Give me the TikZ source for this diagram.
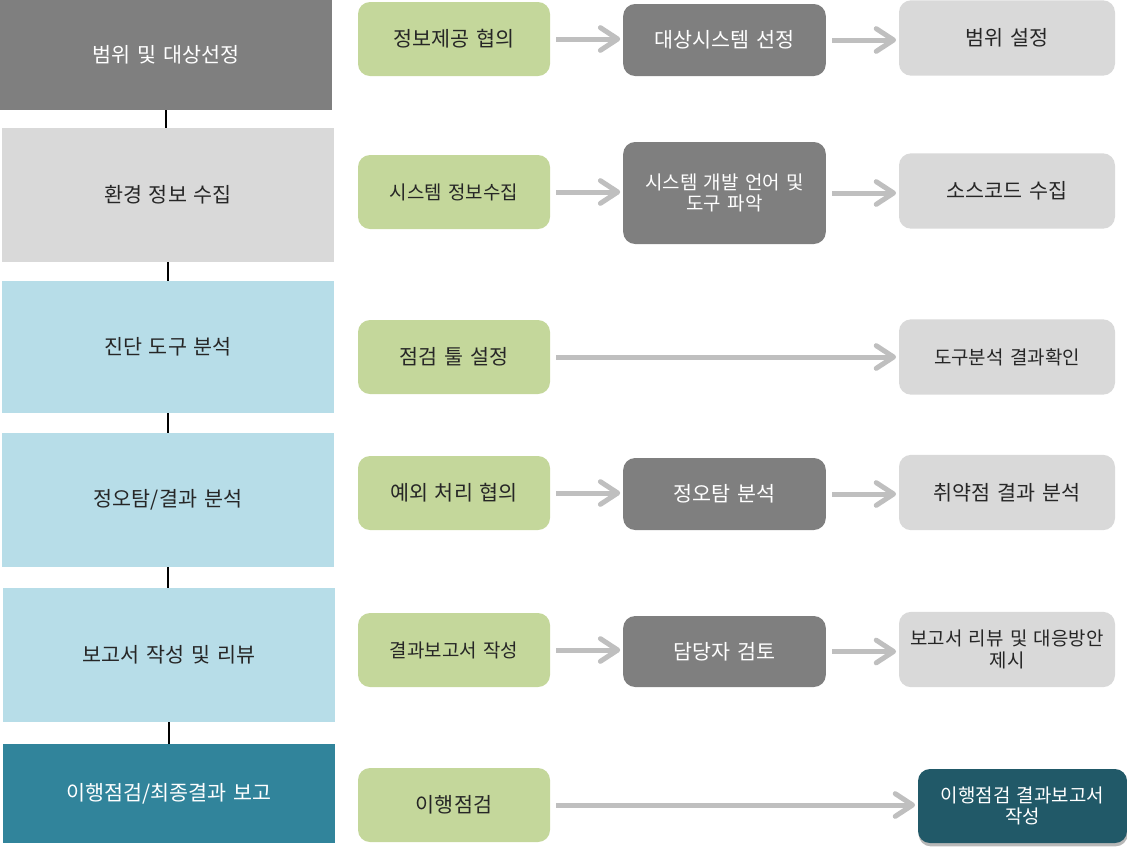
\documentclass[tikz,border=0pt]{standalone}
\usepackage{fontspec}
\newfontfamily\krfont[WordSpace=1.5]{Noto Sans CJK KR}
\usetikzlibrary{arrows.meta,shadows}

\definecolor{stagedark}{HTML}{7F7F7F}
\definecolor{stagelight}{HTML}{D9D9D9}
\definecolor{stageblue}{HTML}{B7DDE8}
\definecolor{stageteal}{HTML}{31849B}
\definecolor{taskgreen}{HTML}{C4D79B}
\definecolor{finalteal}{HTML}{215968}
\definecolor{flowgray}{HTML}{BFBFBF}
\definecolor{textdark}{HTML}{262626}

\tikzset{
  stage/.style={rectangle, minimum width=249pt, minimum height=100.5pt, inner sep=2pt,
    text=textdark, font=\krfont\fontsize{15.5pt}{18pt}\selectfont},
  task/.style={rectangle, rounded corners=9pt, fill=taskgreen, minimum width=144pt,
    minimum height=55.5pt, text=textdark, align=center,
    font=\krfont\fontsize{15.5pt}{18pt}\selectfont},
  check/.style={rectangle, rounded corners=9pt, fill=stagedark, minimum width=152pt,
    minimum height=54pt, text=white, align=center,
    font=\krfont\fontsize{15.5pt}{18pt}\selectfont},
  result/.style={rectangle, rounded corners=9pt, fill=stagelight, minimum width=162pt,
    minimum height=56.5pt, text=textdark, align=center,
    font=\krfont\fontsize{15.5pt}{18pt}\selectfont},
  small/.style={font=\krfont\fontsize{14.2pt}{16pt}\selectfont},
  link/.style={line width=1.1pt, black},
  flow/.style={line width=3.75pt, flowgray, shorten <=4.5pt, shorten >=2pt,
    -{Straight Barb[length=13pt,width=17pt,round]}}
}

\begin{document}
\begin{tikzpicture}[x=0.75pt,y=-0.75pt] % one unit = one pixel, y downwards
\useasboundingbox (0,0) rectangle (1127,851);

% stages on the left
\node[stage, fill=stagedark, text=white, minimum height=82.5pt] (s1) at (166,55) {범위 및 대상선정};
\node[stage, fill=stagelight] (s2) at (168,195) {환경 정보 수집};
\node[stage, fill=stageblue, minimum height=99pt] (s3) at (168,347) {진단 도구 분석};
\node[stage, fill=stageblue] (s4) at (168,500) {정오탐/결과 분석};
\node[stage, fill=stageblue] (s5) at (169,655) {보고서 작성 및 리뷰};
\node[stage, fill=stageteal, text=white, minimum height=74.25pt] (s6) at (169,793.5) {이행점검/최종결과 보고};

\foreach \a/\b in {s1/s2,s2/s3,s3/s4,s4/s5,s5/s6}
\draw[link] (\a.south) -- (\a.south |- \b.north);

% tasks
\node[task] (t1) at (454,39) {정보제공 협의};
\node[task, small] (t2) at (454,192) {시스템 정보수집};
\node[task] (t3) at (454,357) {점검 툴 설정};
\node[task] (t4) at (454,493) {예외 처리 협의};
\node[task, small] (t5) at (454,650) {결과보고서 작성};
\node[task] (t6) at (454,805) {이행점검};

% checks
\node[check] (c1) at (724.5,40) {대상시스템 선정};
\node[check, small, minimum height=76.5pt] (c2) at (724.5,193) {시스템 개발 언어 및\\도구 파악};
\node[check] (c4) at (724.5,494) {정오탐 분석};
\node[check, minimum height=53.25pt] (c5) at (724.5,651.5) {담당자 검토};

% results
\node[result] (r1) at (1007,38) {범위 설정};
\node[result] (r2) at (1007,191) {소스코드 수집};
\node[result, small] (r3) at (1007,357) {도구분석 결과확인};
\node[result] (r4) at (1007,492.5) {취약점 결과 분석};
\node[result, small] (r5) at (1007,649.5) {보고서 리뷰 및 대응방안\\제시};
\node[result, small, fill=finalteal, text=white, minimum width=156.75pt, minimum height=55.5pt,
  drop shadow={shadow xshift=0.5pt, shadow yshift=-2.5pt, fill=black!28, opacity=1}]
  (r6) at (1022.5,806) {이행점검 결과보고서\\작성};

\foreach \a/\b in {t1/c1,c1/r1,t2/c2,c2/r2,t3/r3,t4/c4,c4/r4,t5/c5,c5/r5,t6/r6}
\draw[flow] (\a.east) -- (\a.east -| \b.west);

\end{tikzpicture}
\end{document}
